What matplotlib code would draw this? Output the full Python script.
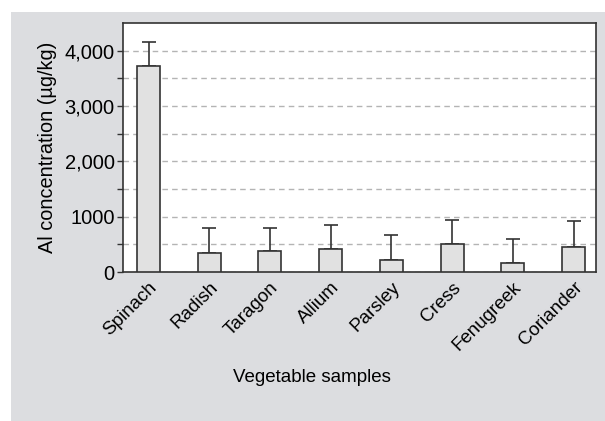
import matplotlib
matplotlib.use('Agg')
import matplotlib.pyplot as plt
from matplotlib.patches import Rectangle
from matplotlib.ticker import FixedLocator, FixedFormatter

# data
vegetables = ['Spinach', 'Radish', 'Taragon', 'Allium', 'Parsley', 'Cress', 'Fenugreek', 'Coriander']
al_mean = [3720, 345, 375, 422, 223, 512, 157, 447]
al_err = [430, 458, 427, 429, 452, 435, 440, 470]

ytick_vals = [0, 500, 1000, 1500, 2000, 2500, 3000, 3500, 4000]
ytick_labels = ['0', '', '1000', '', '2,000', '', '3,000', '', '4,000']

plt.rcParams['font.family'] = ['Liberation Sans', 'DejaVu Sans']

fig = plt.figure(figsize=(6.05, 4.21), dpi=100)
fig.patch.set_facecolor('white')
# grey panel behind the plot
fig.patches.append(Rectangle((11 / 605, 0), 1 - 11 / 605, (421 - 12) / 421,
                             transform=fig.transFigure, facecolor='#dcdde0',
                             edgecolor='none', zorder=-5))

ax = fig.add_axes([123 / 605, (421 - 272) / 421, (596 - 123) / 605, (272 - 23) / 421])
ax.set_zorder(2)
ax.set_facecolor('white')

x = range(len(vegetables))
ax.bar(x, al_mean, width=0.38, color='#e1e1e1', edgecolor='#333333', linewidth=1.2, zorder=3)
ax.errorbar(x, al_mean, yerr=[[0] * len(al_err), al_err], fmt='none',
            ecolor='#333333', elinewidth=1.2, capsize=5, capthick=1.2, zorder=2)

ax.set_xlim(-0.42, 7.37)
ax.set_ylim(0, 4500)

ax.yaxis.set_major_locator(FixedLocator(ytick_vals))
ax.yaxis.set_major_formatter(FixedFormatter(ytick_labels))
ax.grid(axis='y', linestyle=(0, (4, 3)), color='#b4b4b4', linewidth=1.0, zorder=1)
ax.set_axisbelow(True)

ax.set_xticks(list(x))
ax.set_xticklabels(vegetables, rotation=45, ha='right', rotation_mode='anchor', fontsize=13.5)
ax.tick_params(axis='x', length=0, pad=5)
ax.tick_params(axis='y', length=4, width=1, color='#333333', labelsize=14.5, pad=2)

for s in ax.spines.values():
    s.set_color('#333333')
    s.set_linewidth(1.2)

ax.set_ylabel('Al concentration (µg/kg)', fontsize=14.3)
ax.yaxis.set_label_coords((57 - 123) / 473, 0.5)
ax.set_xlabel('Vegetable samples', fontsize=13.5, va='center')
ax.xaxis.set_label_coords((311.5 - 123) / 473, (272 - 378) / 249)

fig.savefig('out.png', dpi=100, facecolor=fig.get_facecolor())
